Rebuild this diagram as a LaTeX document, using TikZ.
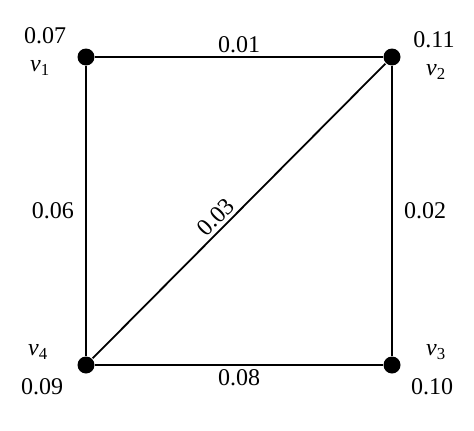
\documentclass[tikz,border=0pt]{standalone}
\usepackage{fontspec}
\setmainfont{Liberation Serif}
\usepackage{tikz}
\tikzset{vert/.style={circle,fill=black,inner sep=0pt,minimum size=17pt},
  lbl/.style={font=\fontsize{24}{28}\selectfont}}
\newcommand{\vx}[1]{\textit{v}\textsubscript{#1}}
\begin{document}
\begin{tikzpicture}[x=1pt,y=-1pt,line width=1.8pt]
      \useasboundingbox (0,0) rectangle (474,431);
      \node[vert] (v1) at (86,57) {};
      \node[vert] (v2) at (392,57) {};
      \node[vert] (v3) at (392,365) {};
      \node[vert] (v4) at (86,365) {};
      \draw (v1) -- node[lbl,above=0pt] {0.01} (v2);
      \draw (v2) -- node[lbl,right=8pt] {0.02} (v3);
      \draw (v4) -- node[lbl,below=0pt] {0.08} (v3);
      \draw (v1) -- node[lbl,left=8pt] {0.06} (v4);
      \draw (v4) -- node[lbl,above=0pt,sloped,pos=0.45] {0.03} (v2);
      \node[lbl] at (45,36) {0.07};
      \node[lbl] at (40,68) {\vx{1}};
      \node[lbl] at (434,40) {0.11};
      \node[lbl] at (436,72) {\vx{2}};
      \node[lbl] at (436,352) {\vx{3}};
      \node[lbl] at (432,387) {0.10};
      \node[lbl] at (38,352) {\vx{4}};
      \node[lbl] at (42,387) {0.09};
    \end{tikzpicture}
\end{document}
